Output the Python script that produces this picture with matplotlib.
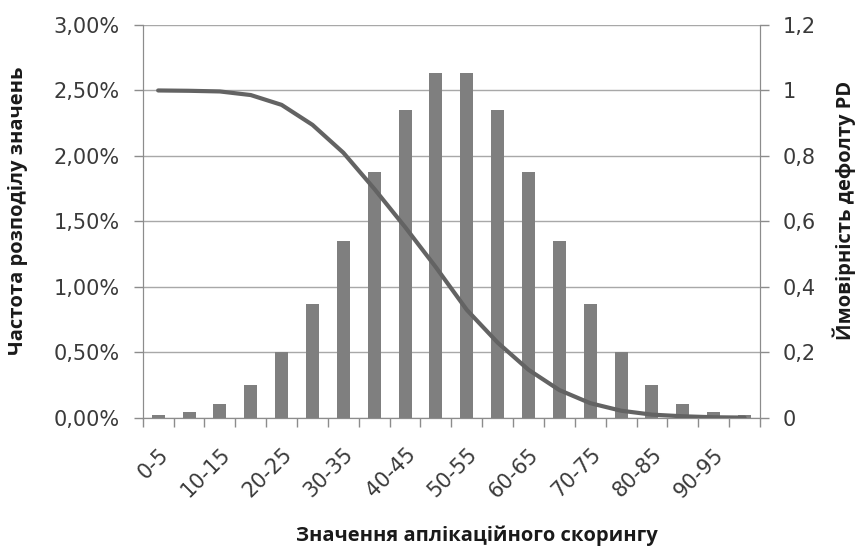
import matplotlib
matplotlib.use('Agg')
import matplotlib.pyplot as plt
import numpy as np

# інтервали скорингу
categories = ['0-5', '5-10', '10-15', '15-20', '20-25', '25-30', '30-35', '35-40', '40-45', '45-50',
              '50-55', '55-60', '60-65', '65-70', '70-75', '75-80', '80-85', '85-90', '90-95', '95-100']
# частота розподілу, %
freq = [0.02, 0.046, 0.11, 0.25, 0.50, 0.87, 1.35, 1.88, 2.35, 2.63,
        2.63, 2.35, 1.88, 1.35, 0.87, 0.50, 0.25, 0.11, 0.046, 0.02]
# ймовірність дефолту PD
pd_vals = [1.0, 0.999, 0.997, 0.986, 0.956, 0.895, 0.81, 0.70, 0.583, 0.46,
           0.33, 0.23, 0.147, 0.085, 0.045, 0.022, 0.01, 0.005, 0.002, 0.001]

left_ticks = [0, 0.5, 1.0, 1.5, 2.0, 2.5, 3.0]
right_ticks = [0, 0.2, 0.4, 0.6, 0.8, 1.0, 1.2]

plt.rcParams['font.family'] = ['Open Sans', 'DejaVu Sans']
txt = '#3a3a3a'
axc = '#8c8c8c'
fs = 15
tick_font = ['DejaVu Sans']

fig = plt.figure(figsize=(8.65, 5.55), dpi=100)
ax = fig.add_axes([0.165, 0.247, 0.7136, 0.708])
ax2 = ax.twinx()

x = np.arange(len(categories))
ax.bar(x, freq, width=0.42, color='#7f7f7f', zorder=3)
ax2.plot(x, pd_vals, color='#636363', lw=3, solid_capstyle='round', zorder=4)

ax.set_xlim(-0.5, len(categories) - 0.5)
ax.set_ylim(0, 3.0)
ax2.set_ylim(0, 1.2)

ax.set_yticks(left_ticks)
ax.set_yticklabels(['{:.2f}%'.format(v).replace('.', ',') for v in left_ticks], family=tick_font)
ax2.set_yticks(right_ticks)
ax2.set_yticklabels(['{:g}'.format(v).replace('.', ',') for v in right_ticks], family=tick_font)

ax.yaxis.grid(True, color='#a8a8a8', lw=1)
ax.set_axisbelow(True)

# x: мітки на межах інтервалів, підписи через один
ax.set_xticks(np.arange(len(categories) + 1) - 0.5)
ax.set_xticklabels([])
ax.set_xticks(x[::2], minor=True)
ax.set_xticklabels(categories[::2], minor=True, rotation=45, ha='right', family=tick_font,
                   rotation_mode='anchor', fontsize=fs, color=txt)
ax.tick_params(axis='x', which='major', length=6.5, color=axc, width=1)
ax.tick_params(axis='x', which='minor', length=0, pad=19)
ax.tick_params(axis='y', length=6.5, color=axc, width=1, labelsize=fs, labelcolor=txt, pad=10)
ax2.tick_params(axis='y', length=6.5, color=axc, width=1, labelsize=fs, labelcolor=txt, pad=10)

for a in (ax, ax2):
    a.spines['top'].set_visible(False)
    for s in ('left', 'right', 'bottom'):
        a.spines[s].set_color(axc)

lab = dict(fontsize=14.5, fontweight='bold', color='#1a1a1a')
ax.set_ylabel('Частота розподілу значень', **lab)
ax2.set_ylabel('Ймовірність дефолту PD', **lab)
ax.set_xlabel('Значення аплікаційного скорингу', **lab)
ax.yaxis.set_label_coords(-0.186, 0.527)
ax2.yaxis.set_label_coords(1.117, 0.527)
ax.xaxis.set_label_coords(0.541, -0.275)

fig.savefig('out.png', dpi=100)
